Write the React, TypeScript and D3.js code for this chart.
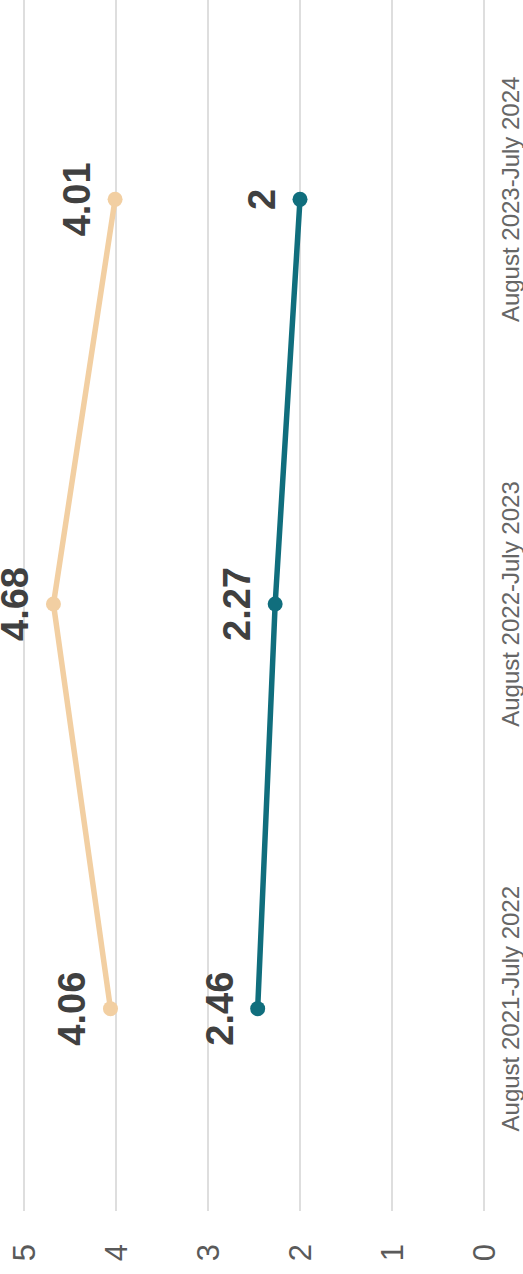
import React, { useEffect, useRef } from "react";
import * as d3 from "d3";

const periods = [
  "August 2021-July 2022",
  "August 2022-July 2023",
  "August 2023-July 2024",
];
const seriesLight = [4.06, 4.68, 4.01];
const seriesDark = [2.46, 2.27, 2];
const yTicks = [0, 1, 2, 3, 4, 5];

const W = 523;
const H = 1274;
// the chart is drawn landscape and then turned a quarter to the left
const LW = H;
const LH = W;
const margin = { top: 24, right: -3, bottom: 39, left: 63 };
const font = "'Liberation Sans', Arial, sans-serif";

const App = () => {
  const ref = useRef<SVGSVGElement>(null);

  useEffect(() => {
    const root = d3.select(ref.current);
    root.selectAll("*").remove();

    const g = root
      .append("g")
      .attr("transform", `translate(0,${H}) rotate(-90)`);

    const x = d3
      .scalePoint()
      .domain(periods)
      .range([margin.left, LW - margin.right])
      .padding(0.5);

    const y = d3
      .scaleLinear()
      .domain([0, 5])
      .range([LH - margin.bottom, margin.top]);

    // grid
    g.append("g")
      .selectAll("line")
      .data(yTicks)
      .join("line")
      .attr("x1", margin.left)
      .attr("x2", LW)
      .attr("y1", (d) => y(d))
      .attr("y2", (d) => y(d))
      .attr("stroke", "#d6d6d6")
      .attr("stroke-width", 1.6);

    // y labels
    g.append("g")
      .selectAll("text")
      .data(yTicks)
      .join("text")
      .attr("x", 30)
      .attr("y", (d) => y(d))
      .attr("text-anchor", "end")
      .attr("dominant-baseline", "central")
      .attr("font-family", font)
      .attr("font-size", 31)
      .attr("fill", "#5a5a5a")
      .text((d) => d);

    // x labels
    g.append("g")
      .selectAll("text")
      .data(periods)
      .join("text")
      .attr("x", (d) => x(d)!)
      .attr("y", LH - 4)
      .attr("text-anchor", "middle")
      .attr("font-family", font)
      .attr("font-size", 24)
      .attr("fill", "#666")
      .text((d) => d);

    const series = [
      { values: seriesLight, color: "#f2cfa2" },
      { values: seriesDark, color: "#106e7d" },
    ];

    const line = d3
      .line<number>()
      .x((_, i) => x(periods[i])!)
      .y((d) => y(d));

    series.forEach((s) => {
      g.append("path")
        .datum(s.values)
        .attr("fill", "none")
        .attr("stroke", s.color)
        .attr("stroke-width", 5.5)
        .attr("d", line);

      g.append("g")
        .selectAll("circle")
        .data(s.values)
        .join("circle")
        .attr("cx", (_, i) => x(periods[i])!)
        .attr("cy", (d) => y(d))
        .attr("r", 7.5)
        .attr("fill", s.color);

      g.append("g")
        .selectAll("text")
        .data(s.values)
        .join("text")
        .attr("x", (_, i) => x(periods[i])!)
        .attr("y", (d) => y(d) - 25)
        .attr("text-anchor", "middle")
        .attr("font-family", font)
        .attr("font-size", 38)
        .attr("font-weight", "bold")
        .attr("fill", "#404040")
        .text((d) => String(d));
    });
  }, []);

  return (
    <svg
      ref={ref}
      width={W}
      height={H}
      style={{ position: "absolute", left: 0, top: 0, background: "#fff" }}
    />
  );
};

export default App;
